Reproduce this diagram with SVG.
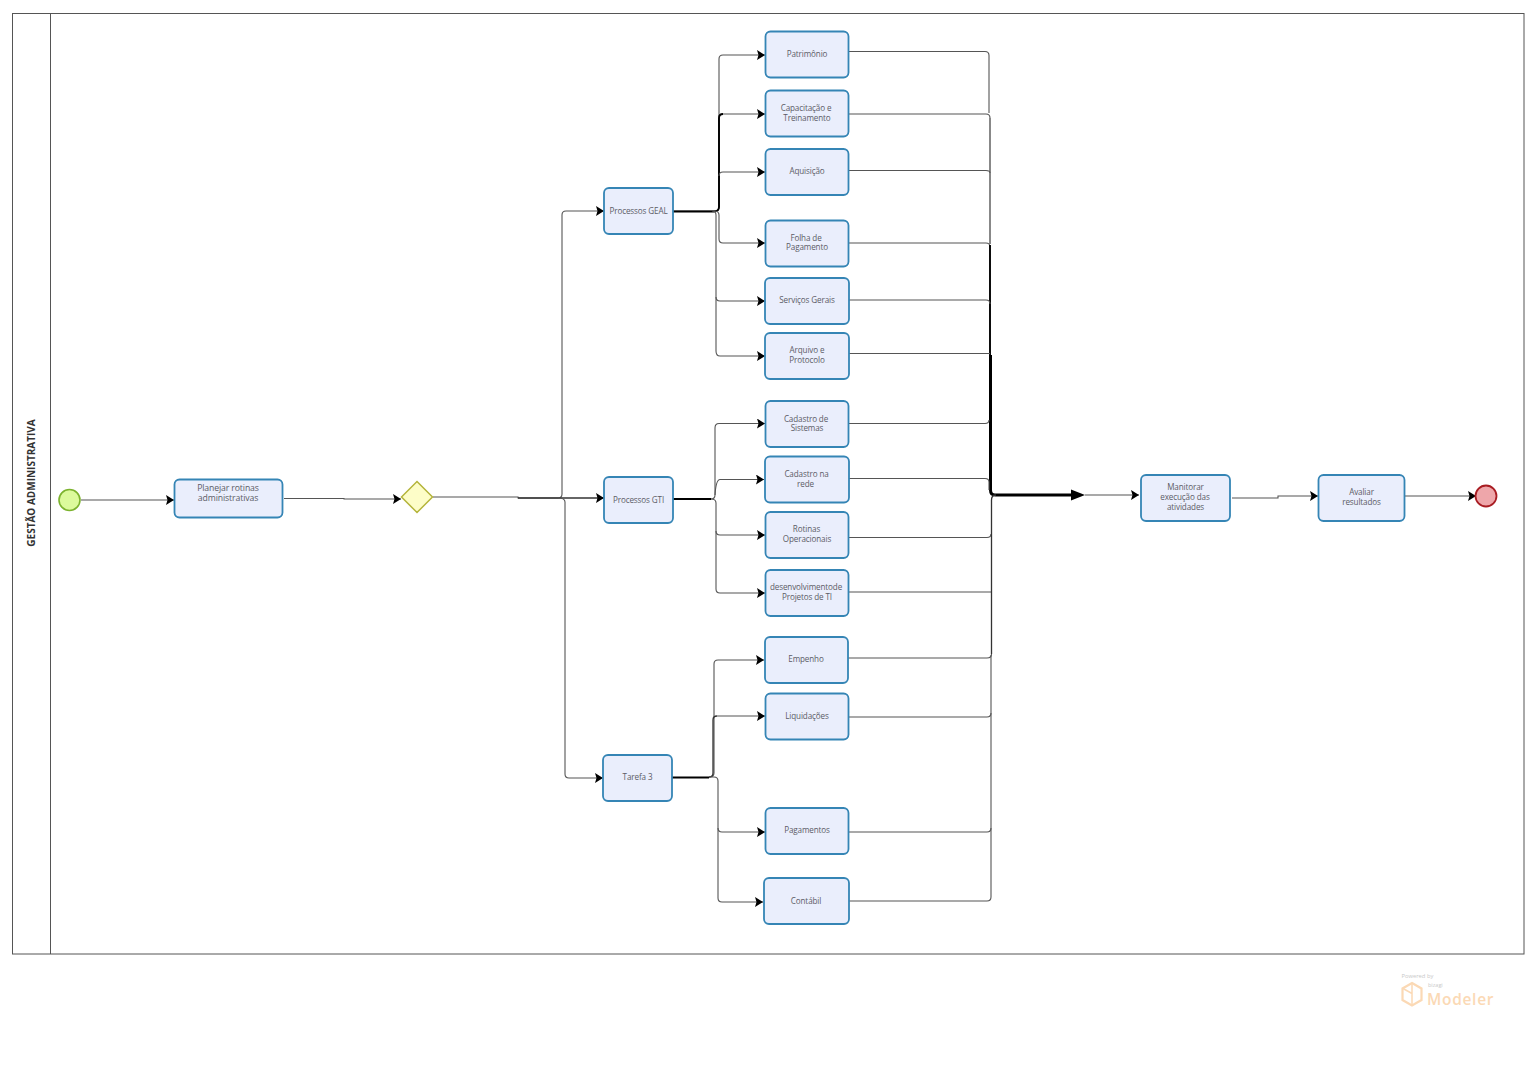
<svg xmlns="http://www.w3.org/2000/svg" width="1536" height="1066" viewBox="0 0 1536 1066">
<style>
.t{font-family:"Open Sans","Liberation Sans",sans-serif;font-size:8.100px;letter-spacing:-.12px;fill:#5c5c66;text-anchor:middle}
.b{fill:#eaeefc;stroke:#3585b5;stroke-width:1.8}
.c{fill:none;stroke:#555;stroke-width:1.1}
.m{fill:none;stroke:#333;stroke-width:1.3}
.k{fill:none;stroke:#000;stroke-width:1.900}
</style>
<defs>
<marker id="a" markerUnits="userSpaceOnUse" markerWidth="9" markerHeight="10" refX="8" refY="5" orient="auto"><path d="M0 0L8 5L0 10L1.5 5Z" fill="#000"/></marker>
</defs>
<rect width="1536" height="1066" fill="#fff"/>
<g id="pool">
<rect x="12.5" y="13.5" width="1511.5" height="940.5" fill="#fff" stroke="#555" stroke-width="1"/>
<line x1="50.5" y1="13.5" x2="50.5" y2="954" stroke="#555" stroke-width="1"/>
<text transform="translate(34.500,483) rotate(-90)" font-family="'Open Sans','Liberation Sans',sans-serif" font-size="10" font-weight="700" fill="#333" text-anchor="middle">GESTÃO ADMINISTRATIVA</text>
</g>
<g id="connectors">
<path class="c" d="M81 500H174" marker-end="url(#a)"/>
<path class="c" d="M284 498.500H344V499H401" marker-end="url(#a)"/>
<path class="c" d="M433 497H518V498H558Q562 498 562 494V215Q562 211 566 211H604" marker-end="url(#a)"/>
<path class="m" d="M518 498H604" marker-end="url(#a)"/>
<path class="c" d="M558 498Q565 498 565 502V774Q565 778 569 778H603" marker-end="url(#a)"/>
<path class="c" d="M673 211H714Q719 211 719 207V59Q719 55 723 55H765" marker-end="url(#a)"/>
<path class="k" d="M673 211.500H714Q719 211.500 719 207V118Q719 114 723 114"/>
<path class="c" d="M723 114H765" marker-end="url(#a)"/>
<path class="c" d="M719 176Q719 172 723 172H765" marker-end="url(#a)"/>
<path class="c" d="M714 211Q719 211 719 215V239Q719 243 723 243H765" marker-end="url(#a)"/>
<path class="c" d="M712 211Q716 211 716 215V297Q716 301 720 301H765" marker-end="url(#a)"/>
<path class="c" d="M716 297V351Q716 356 720 356H765" marker-end="url(#a)"/>
<path class="k" d="M673 499H711"/>
<path class="c" d="M711 499Q715 499 715 495V428Q715 423.500 719 423.500H765" marker-end="url(#a)"/>
<path class="c" d="M715 495Q716 479.500 720 479.500H764" marker-end="url(#a)"/>
<path class="c" d="M711 499Q716 499 716 503V531Q716 535 720 535H765" marker-end="url(#a)"/>
<path class="c" d="M716 531V589Q716 593 720 593H765" marker-end="url(#a)"/>
<path class="k" d="M672 777.500H709"/>
<path class="c" d="M709 777Q714 777 714 773V664Q714 660 718 660H764" marker-end="url(#a)"/>
<path class="m" d="M709 777Q713 777 713 773V720Q713 716 717 716"/>
<path class="c" d="M717 716H765" marker-end="url(#a)"/>
<path class="c" d="M709 777H714Q718 777 718 781V828Q718 832 722 832H765" marker-end="url(#a)"/>
<path class="c" d="M718 828V898Q718 902 722 902H763" marker-end="url(#a)"/>
<path class="c" d="M849 51.500H985Q989 51.500 989 55.500V113"/>
<path class="c" d="M849 114H986Q990 114 990 118"/>
<path stroke="#888" stroke-width="2" fill="none" d="M990 118V244"/>
<path class="c" d="M849 170.500H986Q990 170.500 990 173"/>
<path class="c" d="M849 243H986Q990 243 990 247"/>
<path class="k" d="M990 245V355"/>
<path class="c" d="M849 300H986Q990 300 990 304"/>
<path class="c" d="M849 353.500H990"/>
<path stroke="#000" stroke-width="3" fill="none" d="M990.500 355V490Q990.500 495 995 495H1075"/>
<path fill="#000" d="M1071 489.500L1085 495L1071 500.500Z"/>
<path class="c" d="M849 423.500H985Q989 423.500 989 420"/>
<path class="c" d="M849 478.500H985Q989 478.500 989 482V490"/>
<path class="c" d="M849 537.500H987Q991 537.500 991 534"/>
<path class="c" d="M849 592H991"/>
<path class="c" d="M848 658H987Q991.500 658 991.500 654"/>
<path class="m" d="M991.500 654V500Q991.500 495 996 495"/>
<path class="c" d="M849 717H987Q991 717 991 713"/>
<path class="c" d="M849 832H987Q991 832 991 828"/>
<path class="c" d="M849 901H987Q991 901 991 897V655"/>
<path class="c" d="M1085 495H1139" marker-end="url(#a)"/>
<path class="c" d="M1232 498H1278V496H1318" marker-end="url(#a)"/>
<path class="c" d="M1405 496H1476" marker-end="url(#a)"/>
</g>
<g id="start"><circle cx="69.500" cy="500" r="10.500" fill="#dcfa9c" stroke="#7cb32e" stroke-width="1.600"/></g>
<g id="end"><circle cx="1486" cy="496" r="10.500" fill="#eea6aa" stroke="#a81c22" stroke-width="1.800"/></g>
<g id="gateway"><path d="M417 481.500L432.500 497L417 512.500L401.500 497Z" fill="#fdfdc8" stroke="#b5b53c" stroke-width="1.500"/></g>
<g id="planejar"><rect class="b" x="174.500" y="479.500" width="108" height="38" rx="5"/><text class="t" style="font-size:8.700px"><tspan x="228" y="491">Planejar rotinas</tspan><tspan x="228" y="501">administrativas</tspan></text></g>
<g id="geal"><rect class="b" x="604" y="188" width="69" height="46" rx="5"/><text class="t" x="638.500" y="214">Processos GEAL</text></g>
<g id="gti"><rect class="b" x="604" y="477" width="69" height="46" rx="5"/><text class="t" x="638.500" y="503">Processos GTI</text></g>
<g id="tarefa3"><rect class="b" x="603" y="755" width="69" height="46" rx="5"/><text class="t" x="637.500" y="780">Tarefa 3</text></g>
<g id="patrimonio"><rect class="b" x="765.500" y="31.500" width="83" height="46" rx="5"/><text class="t" x="807" y="57">Patrimônio</text></g>
<g id="capacitacao"><rect class="b" x="765.500" y="90.500" width="83" height="46" rx="5"/><text class="t"><tspan x="806" y="111">Capacitação e</tspan><tspan x="807" y="121">Treinamento</tspan></text></g>
<g id="aquisicao"><rect class="b" x="765.500" y="149" width="83" height="46" rx="5"/><text class="t" x="807" y="174">Aquisição</text></g>
<g id="folha"><rect class="b" x="765.500" y="220.500" width="83" height="46" rx="5"/><text class="t"><tspan x="806" y="241">Folha de</tspan><tspan x="807" y="250">Pagamento</tspan></text></g>
<g id="servicos"><rect class="b" x="765" y="278" width="84" height="46" rx="5"/><text class="t" x="807" y="303">Serviços Gerais</text></g>
<g id="arquivo"><rect class="b" x="765" y="333" width="84" height="46" rx="5"/><text class="t"><tspan x="807" y="353">Arquivo e</tspan><tspan x="807" y="363">Protocolo</tspan></text></g>
<g id="cadastro-sistemas"><rect class="b" x="765.500" y="401" width="83" height="46" rx="5"/><text class="t"><tspan x="806" y="422">Cadastro de</tspan><tspan x="807" y="431">Sistemas</tspan></text></g>
<g id="cadastro-rede"><rect class="b" x="765" y="456.500" width="84" height="46" rx="5"/><text class="t"><tspan x="806.500" y="477">Cadastro na</tspan><tspan x="805.500" y="487">rede</tspan></text></g>
<g id="rotinas"><rect class="b" x="765.500" y="512" width="83" height="46" rx="5"/><text class="t"><tspan x="806.500" y="532">Rotinas</tspan><tspan x="807" y="542">Operacionais</tspan></text></g>
<g id="desenvolvimento"><rect class="b" x="765.500" y="570" width="83" height="46" rx="5"/><text class="t"><tspan x="806" y="590">desenvolvimentode</tspan><tspan x="807" y="600">Projetos de TI</tspan></text></g>
<g id="empenho"><rect class="b" x="765" y="637" width="83" height="46" rx="5"/><text class="t" x="806" y="662">Empenho</text></g>
<g id="liquidacoes"><rect class="b" x="765.500" y="693.500" width="83" height="46" rx="5"/><text class="t" x="807" y="719">Liquidações</text></g>
<g id="pagamentos"><rect class="b" x="765.500" y="808" width="83" height="46" rx="5"/><text class="t" x="807" y="833">Pagamentos</text></g>
<g id="contabil"><rect class="b" x="764" y="878" width="85" height="46" rx="5"/><text class="t" x="806" y="904">Contábil</text></g>
<g id="monitorar"><rect class="b" x="1141" y="475" width="89" height="46" rx="5"/><text class="t"><tspan x="1185.500" y="490">Manitorar</tspan><tspan x="1185" y="500">execução das</tspan><tspan x="1185.500" y="510">atividades</tspan></text></g>
<g id="avaliar"><rect class="b" x="1318.500" y="475" width="86" height="46" rx="5"/><text class="t"><tspan x="1361.500" y="495">Avaliar</tspan><tspan x="1361.500" y="505">resultados</tspan></text></g>
<g id="logo">
<path d="M1412 983L1421.500 988.500V1000L1412 1005.500L1402.500 1000V988.500Z" fill="none" stroke="#fbd9b5" stroke-width="2.200"/>
<path d="M1403 988.500L1412 993.500V1005M1412 993.500V984" fill="none" stroke="#fbd9b5" stroke-width="1.500"/>
<text x="1401.500" y="977.500" font-family="'Open Sans','Liberation Sans',sans-serif" font-size="5.800" fill="#c9c9c9">Powered by</text>
<text x="1428" y="986.500" font-family="'Open Sans','Liberation Sans',sans-serif" font-size="5.500" fill="#c9c9c9">bizagi</text>
<text x="1427" y="1004.500" font-family="'Open Sans','Liberation Sans',sans-serif" font-size="15.500" font-weight="600" letter-spacing=".7" fill="#fbd9b5">Modeler</text>
</g>
</svg>
